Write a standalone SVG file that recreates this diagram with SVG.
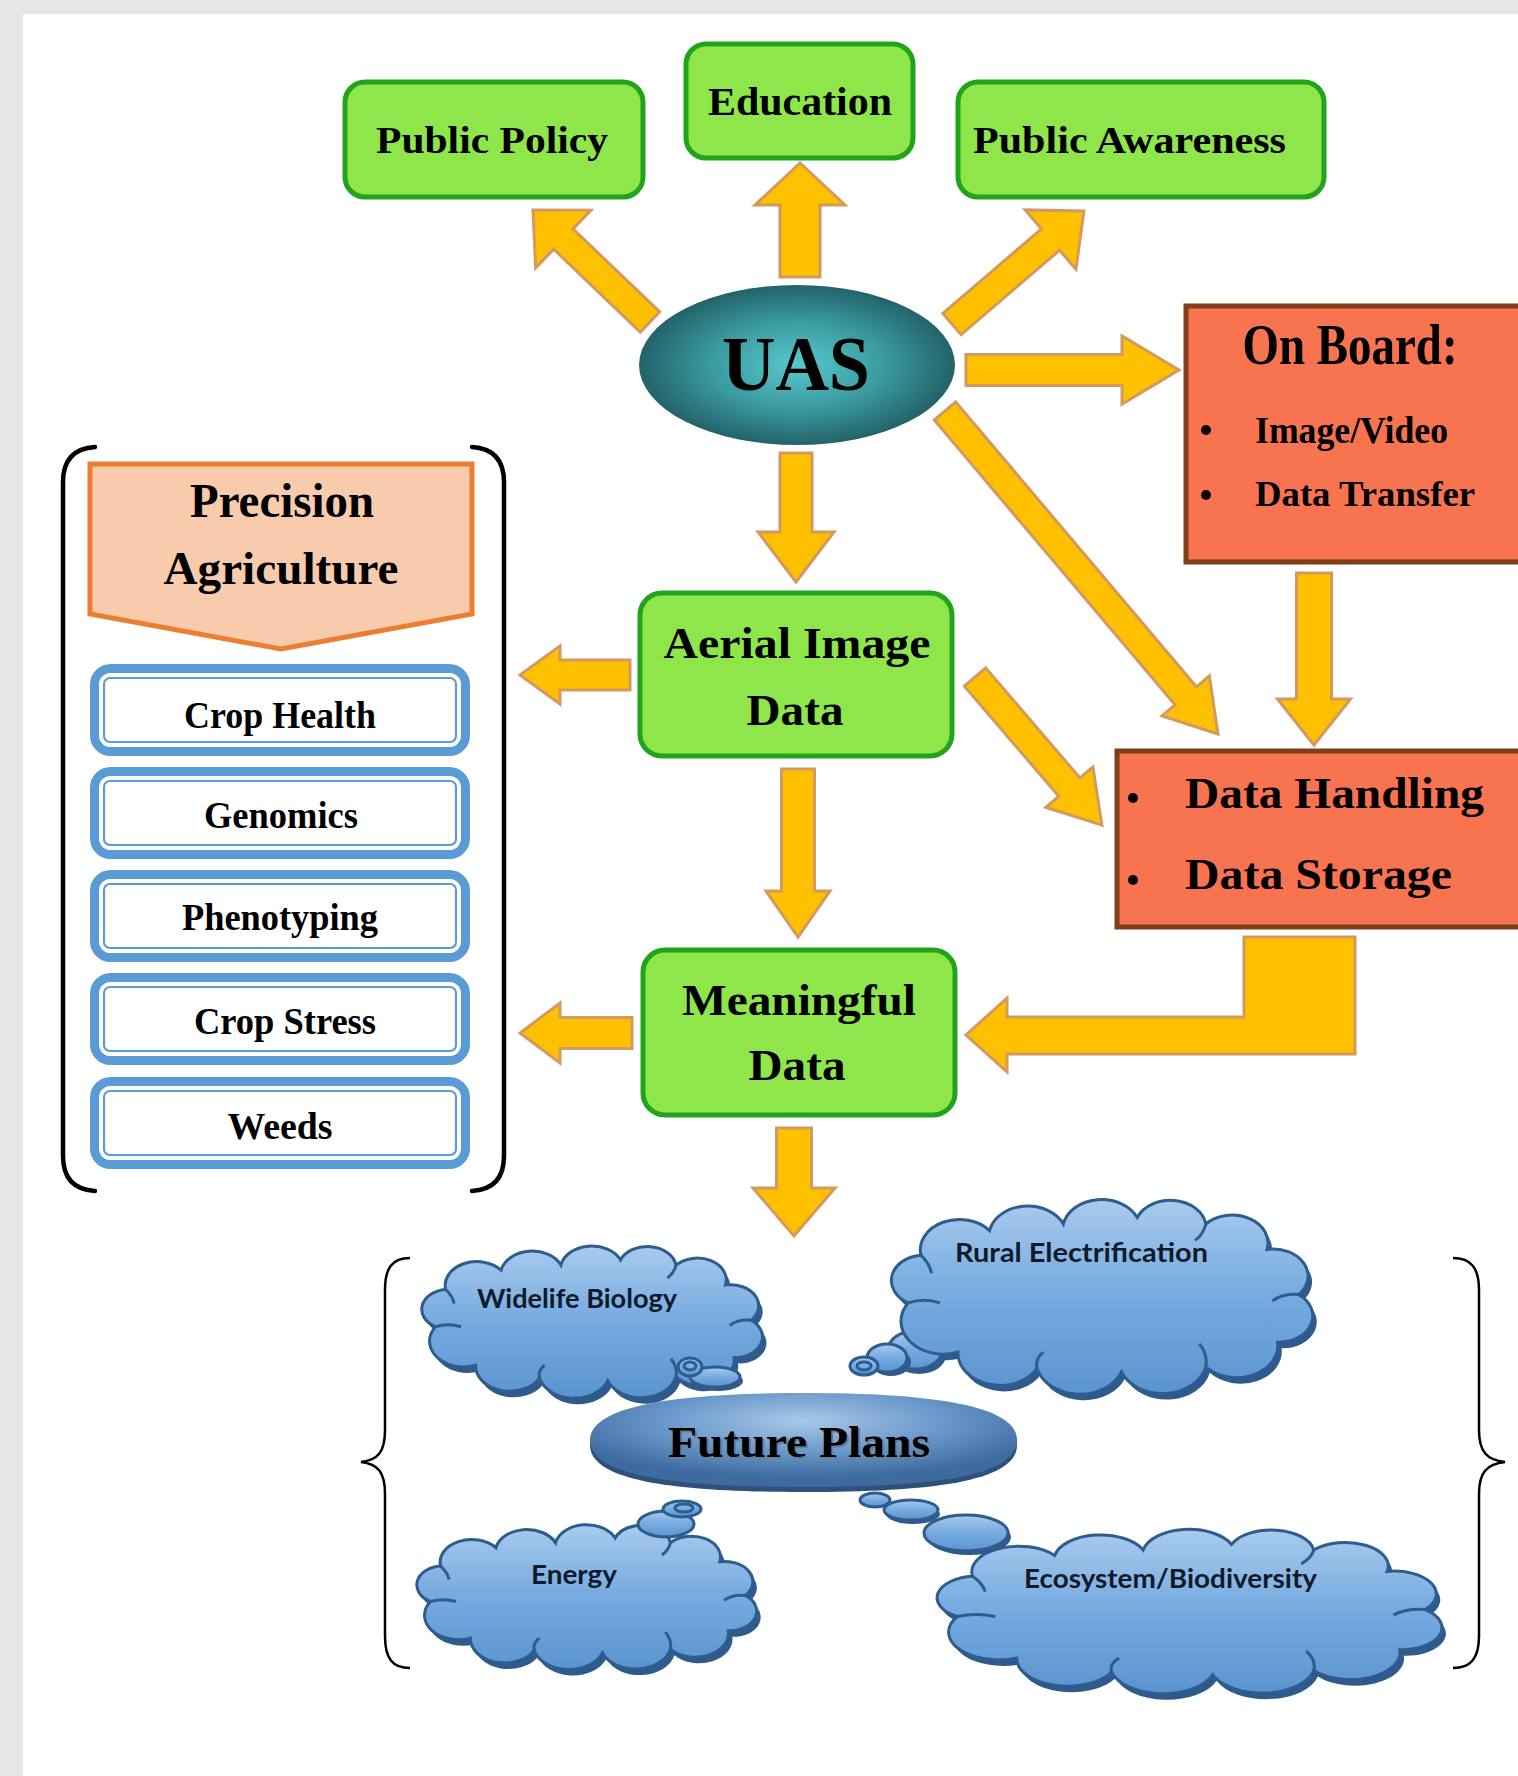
<svg xmlns="http://www.w3.org/2000/svg" xmlns:xlink="http://www.w3.org/1999/xlink" width="1518" height="1776" viewBox="0 0 1518 1776">
<style>
.green{fill:#8fe64a;stroke:#22a31c;stroke-width:5}
.red{fill:#f8734f;stroke:#7f3f1a;stroke-width:5}
.arrow{fill:#ffc000;stroke:#d4995c;stroke-width:3;stroke-linejoin:miter}
.tnr{font-family:"Liberation Serif","Times New Roman",serif;font-weight:bold;fill:#000}
.cal{font-family:Lato,"Open Sans",sans-serif;font-weight:bold;fill:#101a28}
.bluebox{fill:#fff;stroke:#5b9bd5;stroke-width:9}
.bluein{fill:none;stroke:#5b9bd5;stroke-width:2.2}
.brk{fill:none;stroke:#000;stroke-width:4.5;stroke-linecap:round}
.brace{fill:none;stroke:#000;stroke-width:2.5}
.cshadow{fill:#2e5a8c}
.cloud{fill:url(#cloudFill);stroke:#2f5c8f;stroke-width:3}
.cinner{fill:none;stroke:#2f5c8f;stroke-width:3}
</style>
<defs>
<radialGradient id="uasFill" cx="50%" cy="50%" r="55%">
<stop offset="0" stop-color="#58c9cb"/>
<stop offset="0.5" stop-color="#3a9aa0"/>
<stop offset="1" stop-color="#1f565d"/>
</radialGradient>
<linearGradient id="cloudFill" x1="0" y1="0" x2="0" y2="1">
<stop offset="0" stop-color="#a9cbed"/>
<stop offset="0.45" stop-color="#79ade2"/>
<stop offset="1" stop-color="#5a94cf"/>
</linearGradient>
<radialGradient id="fpFill" cx="50%" cy="30%" r="60%">
<stop offset="0" stop-color="#a9c8e8"/>
<stop offset="0.55" stop-color="#6a98cb"/>
<stop offset="1" stop-color="#3d6b9f"/>
</radialGradient>
<path id="cloudShape" vector-effect="non-scaling-stroke" d="M18,110 A31,31 0 0 1 30,52 A37,37 0 0 1 95,22 A37,37 0 0 1 165,14 A37,37 0 0 1 235,6 A34,34 0 0 1 300,14 A34,34 0 0 1 358,45 A33,33 0 0 1 388,100 A32,32 0 0 1 368,158 A39,39 0 0 1 300,188 A42,42 0 0 1 220,194 A42,42 0 0 1 140,190 A40,40 0 0 1 65,170 A40,40 0 0 1 18,110 Z"/>
<path id="cloudInner" vector-effect="non-scaling-stroke" d="M30,52 q8,10 10,22 M300,14 q-2,12 -10,20 M388,100 q-15,-2 -25,8 M300,188 q2,-15 -6,-28 M140,190 q-2,-12 6,-20 M18,110 q15,-6 30,0"/>
</defs>

<rect x="0" y="0" width="1518" height="1776" fill="#e6e6e6"/>
<rect x="23" y="14" width="1495" height="1762" fill="#ffffff"/>

<g id="connectors">
<path class="arrow" transform="translate(650,322) rotate(223.75)" d="M0,-14 H120 V-40 L162,0 L120,40 V14 H0 Z"/>
<path class="arrow" transform="translate(800,277) rotate(-90)" d="M0,-20 H72 V-45 L114,0 L72,45 V20 H0 Z"/>
<path class="arrow" transform="translate(952,324) rotate(-40.6)" d="M0,-14 H129.8 V-39 L173.8,0 L129.8,39 V14 H0 Z"/>
<path class="arrow" transform="translate(966,370)" d="M0,-15.5 H156 V-34 L213,0 L156,34 V15.5 H0 Z"/>
<path class="arrow" transform="translate(945,411) rotate(49.8)" d="M0,-14 H372.9 V-31 L422.9,0 L372.9,31 V14 H0 Z"/>
<path class="arrow" transform="translate(796,453) rotate(90)" d="M0,-16 H79 V-38 L129,0 L79,38 V16 H0 Z"/>
<path class="arrow" transform="translate(1314,573) rotate(90)" d="M0,-17.5 H126 V-36.5 L172,0 L126,36.5 V17.5 H0 Z"/>
<path class="arrow" transform="translate(630,675) rotate(180)" d="M0,-15 H70 V-29 L110,0 L70,29 V15 H0 Z"/>
<path class="arrow" transform="translate(975,677) rotate(49.4)" d="M0,-14 H145 V-31 L195,0 L145,31 V14 H0 Z"/>
<path class="arrow" transform="translate(798,769) rotate(90)" d="M0,-16.5 H122 V-32 L168,0 L122,32 V16.5 H0 Z"/>
<path class="arrow" d="M1244,937 L1355,937 L1355,1054 L1007,1054 L1007,1072 L966,1035 L1007,998 L1007,1017 L1244,1017 Z"/>
<path class="arrow" transform="translate(632,1033) rotate(180)" d="M0,-15.5 H72 V-30 L112,0 L72,30 V15.5 H0 Z"/>
<path class="arrow" transform="translate(794,1128) rotate(90)" d="M0,-17.5 H60 V-41 L108,0 L60,41 V17.5 H0 Z"/>
</g>

<g id="node-public-policy">
<rect class="green" x="345" y="82" width="298" height="115" rx="20"/>
<text class="tnr" x="492" y="153" font-size="38" text-anchor="middle" textLength="232" lengthAdjust="spacingAndGlyphs">Public Policy</text>
</g>
<g id="node-education">
<rect class="green" x="686" y="44" width="227" height="114" rx="20"/>
<text class="tnr" x="800" y="115" font-size="40" text-anchor="middle" textLength="184" lengthAdjust="spacingAndGlyphs">Education</text>
</g>
<g id="node-public-awareness">
<rect class="green" x="958" y="82" width="366" height="115" rx="20"/>
<text class="tnr" x="973" y="153" font-size="38" textLength="313" lengthAdjust="spacingAndGlyphs">Public Awareness</text>
</g>
<g id="node-uas">
<ellipse cx="797" cy="365" rx="158" ry="80" fill="url(#uasFill)"/>
<text class="tnr" x="796" y="390" font-size="78" text-anchor="middle" textLength="148" lengthAdjust="spacingAndGlyphs">UAS</text>
</g>
<g id="node-on-board">
<rect class="red" x="1186" y="306" width="345" height="256"/>
<text class="tnr" x="1350" y="364" font-size="56" text-anchor="middle" textLength="215" lengthAdjust="spacingAndGlyphs">On Board:</text>
<circle cx="1206" cy="430" r="5" fill="#000"/>
<text class="tnr" x="1255" y="443" font-size="38" textLength="193" lengthAdjust="spacingAndGlyphs">Image/Video</text>
<circle cx="1206" cy="495" r="5" fill="#000"/>
<text class="tnr" x="1255" y="506" font-size="36" textLength="220" lengthAdjust="spacingAndGlyphs">Data Transfer</text>
</g>
<g id="node-aerial-image-data">
<rect class="green" x="640" y="593" width="312" height="163" rx="22"/>
<text class="tnr" x="797" y="658" font-size="45" text-anchor="middle" textLength="267" lengthAdjust="spacingAndGlyphs">Aerial Image</text>
<text class="tnr" x="795" y="725" font-size="44" text-anchor="middle" textLength="97" lengthAdjust="spacingAndGlyphs">Data</text>
</g>
<g id="node-data-handling">
<rect class="red" x="1117" y="751" width="414" height="176"/>
<circle cx="1133" cy="798" r="5" fill="#000"/>
<text class="tnr" x="1185" y="808" font-size="45" textLength="299" lengthAdjust="spacingAndGlyphs">Data Handling</text>
<circle cx="1133" cy="880" r="5" fill="#000"/>
<text class="tnr" x="1185" y="889" font-size="45" textLength="267" lengthAdjust="spacingAndGlyphs">Data Storage</text>
</g>
<g id="node-meaningful-data">
<rect class="green" x="643" y="950" width="312" height="165" rx="22"/>
<text class="tnr" x="799" y="1015" font-size="45" text-anchor="middle" textLength="234" lengthAdjust="spacingAndGlyphs">Meaningful</text>
<text class="tnr" x="797" y="1080" font-size="44" text-anchor="middle" textLength="97" lengthAdjust="spacingAndGlyphs">Data</text>
</g>

<g id="node-precision-agriculture">
<path class="brk" d="M95,447 Q63,449 63,482 L63,1156 Q63,1189 95,1191"/>
<path class="brk" d="M472,447 Q504,449 504,482 L504,1156 Q504,1189 472,1191"/>
<polygon points="90,464 472,464 472,614 281,649 90,614" fill="#f8cbad" stroke="#ed7d31" stroke-width="5"/>
<text class="tnr" x="282" y="517" font-size="48" text-anchor="middle" textLength="184" lengthAdjust="spacingAndGlyphs">Precision</text>
<text class="tnr" x="281" y="584" font-size="46" text-anchor="middle" textLength="235" lengthAdjust="spacingAndGlyphs">Agriculture</text>
</g>
<g id="node-crop-health">
<rect class="bluebox" x="94.5" y="668.5" width="371" height="83" rx="16"/>
<rect class="bluein" x="104" y="678" width="352" height="64" rx="6"/>
<text class="tnr" x="280" y="728" font-size="38" text-anchor="middle" textLength="192" lengthAdjust="spacingAndGlyphs">Crop Health</text>
</g>
<g id="node-genomics">
<rect class="bluebox" x="94.5" y="771.5" width="371" height="83" rx="16"/>
<rect class="bluein" x="104" y="781" width="352" height="64" rx="6"/>
<text class="tnr" x="281" y="828" font-size="38" text-anchor="middle" textLength="154" lengthAdjust="spacingAndGlyphs">Genomics</text>
</g>
<g id="node-phenotyping">
<rect class="bluebox" x="94.5" y="874.5" width="371" height="83" rx="16"/>
<rect class="bluein" x="104" y="884" width="352" height="64" rx="6"/>
<text class="tnr" x="280" y="930" font-size="38" text-anchor="middle" textLength="196" lengthAdjust="spacingAndGlyphs">Phenotyping</text>
</g>
<g id="node-crop-stress">
<rect class="bluebox" x="94.5" y="977.5" width="371" height="83" rx="16"/>
<rect class="bluein" x="104" y="987" width="352" height="64" rx="6"/>
<text class="tnr" x="285" y="1034" font-size="38" text-anchor="middle" textLength="182" lengthAdjust="spacingAndGlyphs">Crop Stress</text>
</g>
<g id="node-weeds">
<rect class="bluebox" x="94.5" y="1081.5" width="371" height="83" rx="16"/>
<rect class="bluein" x="104" y="1091" width="352" height="64" rx="6"/>
<text class="tnr" x="280" y="1139" font-size="38" text-anchor="middle" textLength="105" lengthAdjust="spacingAndGlyphs">Weeds</text>
</g>

<g id="future-braces">
<path class="brace" d="M410,1258 C392,1258 385,1268 385,1290 L385,1430 C385,1452 378,1460 361,1462 C378,1464 385,1472 385,1494 L385,1636 C385,1658 392,1668 410,1668"/>
<path class="brace" d="M1453,1258 C1471,1258 1479,1268 1479,1290 L1479,1430 C1479,1452 1487,1460 1505,1462 C1487,1464 1479,1472 1479,1494 L1479,1636 C1479,1658 1471,1668 1453,1668"/>
</g>

<g id="node-widelife-biology">
<g transform="translate(4,6)"><use href="#cloudShape" class="cshadow" transform="translate(420.1,1256.1) scale(0.853,0.642)"/></g>
<use href="#cloudShape" class="cloud" transform="translate(420.1,1256.1) scale(0.853,0.642)"/>
<use href="#cloudInner" class="cinner" transform="translate(420.1,1256.1) scale(0.853,0.642)"/>
<ellipse cx="718" cy="1381" rx="25" ry="10" class="cshadow"/>
<ellipse cx="715" cy="1377" rx="25" ry="10" class="cloud"/>
<ellipse cx="690" cy="1367" rx="12" ry="9" class="cloud"/>
<ellipse cx="690" cy="1366" rx="6" ry="4" class="cinner"/>
<text class="cal" x="477" y="1308" font-size="26" textLength="200" lengthAdjust="spacingAndGlyphs">Widelife Biology</text>
</g>
<g id="node-rural-electrification">
<g transform="translate(4,6)"><use href="#cloudShape" class="cshadow" transform="translate(889.3,1212.5) scale(1.055,0.821)"/></g>
<ellipse cx="919" cy="1355" rx="27" ry="19" class="cshadow"/>
<ellipse cx="915" cy="1350" rx="27" ry="19" class="cloud"/>
<use href="#cloudShape" class="cloud" transform="translate(889.3,1212.5) scale(1.055,0.821)"/>
<use href="#cloudInner" class="cinner" transform="translate(889.3,1212.5) scale(1.055,0.821)"/>
<ellipse cx="891" cy="1362" rx="20" ry="14" class="cshadow"/>
<ellipse cx="887" cy="1358" rx="20" ry="14" class="cloud"/>
<ellipse cx="864" cy="1366" rx="14" ry="9" class="cloud"/>
<ellipse cx="864" cy="1366" rx="7" ry="4" class="cinner"/>
<text class="cal" x="955" y="1262" font-size="27" textLength="253" lengthAdjust="spacingAndGlyphs">Rural Electrification</text>
</g>
<g id="node-energy">
<g transform="translate(4,6)"><use href="#cloudShape" class="cshadow" transform="translate(415.1,1534.3) scale(0.851,0.611)"/></g>
<use href="#cloudShape" class="cloud" transform="translate(415.1,1534.3) scale(0.851,0.611)"/>
<use href="#cloudInner" class="cinner" transform="translate(415.1,1534.3) scale(0.851,0.611)"/>
<ellipse cx="666" cy="1524" rx="28" ry="13" class="cloud"/>
<ellipse cx="682" cy="1509" rx="19" ry="8" class="cloud"/>
<ellipse cx="684" cy="1508" rx="9" ry="4" class="cinner"/>
<text class="cal" x="531" y="1584" font-size="27" textLength="86" lengthAdjust="spacingAndGlyphs">Energy</text>
</g>
<g id="node-ecosystem-biodiversity">
<g transform="translate(4,6)"><use href="#cloudShape" class="cshadow" transform="translate(934.6,1540.3) scale(1.264,0.693)"/></g>
<use href="#cloudShape" class="cloud" transform="translate(934.6,1540.3) scale(1.264,0.693)"/>
<use href="#cloudInner" class="cinner" transform="translate(934.6,1540.3) scale(1.264,0.693)"/>
<ellipse cx="875" cy="1500" rx="15" ry="7" class="cloud"/>
<ellipse cx="913" cy="1514" rx="27" ry="10" class="cshadow"/>
<ellipse cx="911" cy="1510" rx="27" ry="10" class="cloud"/>
<ellipse cx="969" cy="1537" rx="42" ry="18" class="cshadow"/>
<ellipse cx="966" cy="1533" rx="42" ry="18" class="cloud"/>
<text class="cal" x="1024" y="1588" font-size="27" textLength="293" lengthAdjust="spacingAndGlyphs">Ecosystem/Biodiversity</text>
</g>
<g id="node-future-plans">
<path transform="translate(0,5)" fill="#2f5079" d="M590,1440 C590,1405 680,1393 803,1393 C930,1393 1017,1405 1017,1440 C1017,1477 930,1487 803,1487 C680,1487 590,1477 590,1440 Z"/>
<path fill="url(#fpFill)" d="M590,1440 C590,1405 680,1393 803,1393 C930,1393 1017,1405 1017,1440 C1017,1477 930,1487 803,1487 C680,1487 590,1477 590,1440 Z"/>
<text class="tnr" x="801" y="1459" font-size="45" text-anchor="middle" textLength="262" lengthAdjust="spacingAndGlyphs" style="fill:#6a7f96">Future Plans</text>
<text class="tnr" x="799" y="1457" font-size="45" text-anchor="middle" textLength="262" lengthAdjust="spacingAndGlyphs">Future Plans</text>
</g>
</svg>
